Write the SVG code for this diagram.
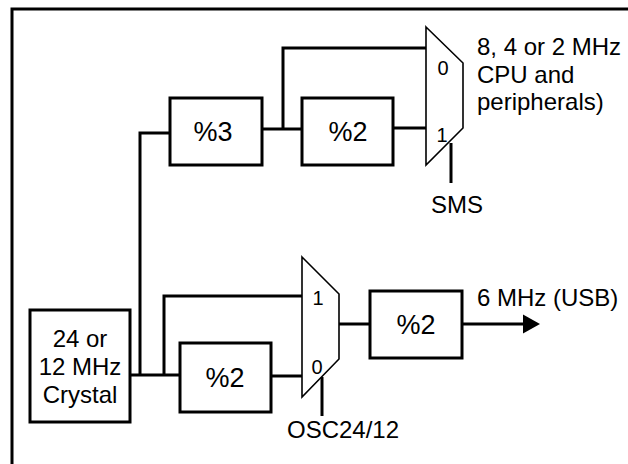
<svg xmlns="http://www.w3.org/2000/svg" width="628" height="464" viewBox="0 0 628 464">
<style>
.frame{fill:none;stroke:#000;stroke-width:3}
.box{fill:#fff;stroke:#000;stroke-width:3}
.mux{fill:#fff;stroke:#000;stroke-width:1.6;stroke-linejoin:miter}
.wire{fill:none;stroke:#000;stroke-width:3}
.lbl{font-family:"Liberation Sans",Arial,sans-serif;font-size:24px;fill:#000}
.big{font-family:"Liberation Sans",Arial,sans-serif;font-size:27px;fill:#000;text-anchor:middle}
.sel{font-family:"Liberation Sans",Arial,sans-serif;font-size:20px;fill:#000;text-anchor:middle}
</style>
<defs>
<marker id="arr" markerWidth="18" markerHeight="20" refX="1" refY="10" orient="auto" markerUnits="userSpaceOnUse">
<path d="M1,0.5 L18,10 L1,19.5 Z" fill="#000"/>
</marker>
</defs>
<rect class="frame" x="12" y="9" width="640" height="480"/>
<g id="connectors">
<polyline class="wire" points="130,375 180,375"/>
<polyline class="wire" points="140,375 140,133 170,133"/>
<polyline class="wire" points="164,375 164,296 302,296"/>
<polyline class="wire" points="262,129 302,129"/>
<polyline class="wire" points="283,129 283,48 426,48"/>
<polyline class="wire" points="393,128 426,128"/>
<polyline class="wire" points="451,143 451,183"/>
<polyline class="wire" points="271,376 302,376"/>
<polyline class="wire" points="322,377 322,416"/>
<polyline class="wire" points="339,324 370,324"/>
<polyline class="wire" points="462,324 523,324" marker-end="url(#arr)"/>
</g>
<g id="crystal">
<rect class="box" x="30" y="310" width="100" height="112"/>
<text class="lbl" x="80" y="347" text-anchor="middle">24 or</text>
<text class="lbl" x="80" y="375" text-anchor="middle">12 MHz</text>
<text class="lbl" x="80" y="403" text-anchor="middle">Crystal</text>
</g>
<g id="div3">
<rect class="box" x="170" y="98" width="92" height="67"/>
<text class="big" x="213" y="141">%3</text>
</g>
<g id="div2-top">
<rect class="box" x="302" y="98" width="91" height="67"/>
<text class="big" x="348" y="141">%2</text>
</g>
<g id="mux-top">
<polygon class="mux" points="426,27 463,63 463,128 426,165"/>
<text class="sel" x="443" y="75">0</text>
<text class="sel" x="442" y="142">1</text>
</g>
<g id="div2-low">
<rect class="box" x="180" y="343" width="91" height="69"/>
<text class="big" x="225" y="387">%2</text>
</g>
<g id="mux-low">
<polygon class="mux" points="302,257 339,294 339,359 302,397"/>
<text class="sel" x="318" y="305">1</text>
<text class="sel" x="317" y="374">0</text>
</g>
<g id="div2-out">
<rect class="box" x="370" y="291" width="92" height="67"/>
<text class="big" x="416" y="334">%2</text>
</g>
<g id="labels">
<text class="lbl" x="477" y="55">8, 4 or 2 MHz</text>
<text class="lbl" x="477" y="83">CPU and</text>
<text class="lbl" x="477" y="110">peripherals)</text>
<text class="lbl" x="457" y="213" text-anchor="middle">SMS</text>
<text class="lbl" x="287" y="438">OSC24/12</text>
<text class="lbl" x="477" y="306">6 MHz (USB)</text>
</g>
</svg>
